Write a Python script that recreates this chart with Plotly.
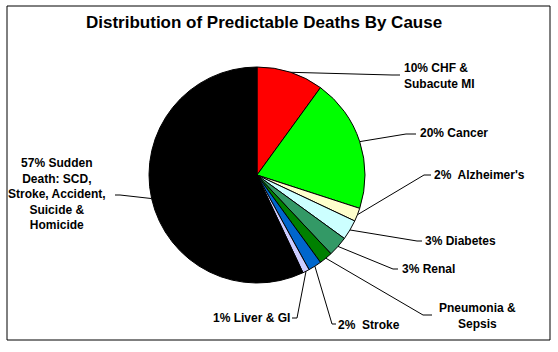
import math
import plotly.graph_objects as go

# ---- data ----
categories = ["CHF & Subacute MI", "Cancer", "Alzheimer's", "Diabetes", "Renal",
              "Pneumonia & Sepsis", "Stroke", "Liver & GI",
              "Sudden Death: SCD, Stroke, Accident, Suicide & Homicide"]
values = [10, 20, 2, 3, 3, 2, 2, 1, 57]
label_texts = ["10% CHF &<br>Subacute MI", "20% Cancer", "2%\u00a0 Alzheimer's", "3% Diabetes",
               "3% Renal", "Pneumonia &<br>Sepsis", "2%\u00a0 Stroke", "1% Liver & GI",
               "57% Sudden<br>Death: SCD,<br>Stroke, Accident,<br>Suicide &<br>Homicide"]
colors = ["#FF0000", "#00FF00", "#FFFFCC", "#CCFFFF", "#339966",
          "#008000", "#0066CC", "#CCCCFF", "#000000"]

W, H = 558, 352
CX, CY, R = 257, 175, 108

def px(x):
    return x / W

def py(y):
    return 1 - y / H

# label layout: (x, y, xanchor, align, knee, end)
label_layout = [
    (402, 76, "left", "left", (392, 75), (400, 75)),
    (418, 133, "left", "left", (406, 134), (416, 134)),
    (432, 175, "left", "left", (424, 175), (431, 175)),
    (423, 241, "left", "left", (417, 241), (422, 241)),
    (400, 269, "left", "left", (393, 269), (398, 269)),
    (477, 316, "center", "center", (423, 315), (432, 315)),
    (336, 325, "left", "left", (332, 324), (336, 324)),
    (292, 318, "right", "right", (297, 318), (292, 318)),
    (57, 194, "center", "center", (120, 195), (115, 195)),
]

fig = go.Figure()
fig.add_trace(go.Pie(
    labels=categories, values=values, sort=False, direction="clockwise", rotation=0,
    marker=dict(colors=colors, line=dict(color="#000000", width=1)),
    textinfo="none", hoverinfo="label+percent", showlegend=False,
    domain=dict(x=[px(CX - R), px(CX + R)], y=[py(CY + R), py(CY - R)]),
))

total = sum(values)
cum = 0
shapes = []
annotations = []
for v, txt, lay in zip(values, label_texts, label_layout):
    mid = (cum + v / 2) / total * 2 * math.pi
    cum += v
    sx = CX + R * math.sin(mid)
    sy = CY - R * math.cos(mid)
    lx, ly, xa, al, knee, end = lay
    pts = [(sx, sy), knee, end]
    for (x0, y0), (x1, y1) in zip(pts[:-1], pts[1:]):
        shapes.append(dict(type="line", xref="paper", yref="paper",
                           x0=px(x0), y0=py(y0), x1=px(x1), y1=py(y1),
                           line=dict(color="#000000", width=1)))
    bold = "<br>".join("<b>" + part + "</b>" for part in txt.split("<br>"))
    annotations.append(dict(text=bold, x=px(lx), y=py(ly), xref="paper", yref="paper",
                            xanchor=xa, yanchor="middle", align=al, showarrow=False,
                            font=dict(family="Liberation Sans", size=12, color="#000000")))

# border
shapes.append(dict(type="rect", xref="paper", yref="paper",
                   x0=px(7), y0=py(340), x1=px(550), y1=py(6),
                   line=dict(color="#000000", width=1), fillcolor="rgba(0,0,0,0)"))

annotations.append(dict(text="<b>Distribution of Predictable Deaths By Cause</b>",
                        x=px(264), y=py(22), xref="paper", yref="paper",
                        xanchor="center", yanchor="middle", showarrow=False,
                        font=dict(family="Liberation Sans", size=17, color="#000000")))

fig.update_layout(
    width=W, height=H, margin=dict(l=0, r=0, t=0, b=0),
    paper_bgcolor="#FFFFFF", plot_bgcolor="#FFFFFF",
    shapes=shapes, annotations=annotations,
    font=dict(family="Liberation Sans", size=12, color="#000000"),
)
fig.write_html("out.html")
